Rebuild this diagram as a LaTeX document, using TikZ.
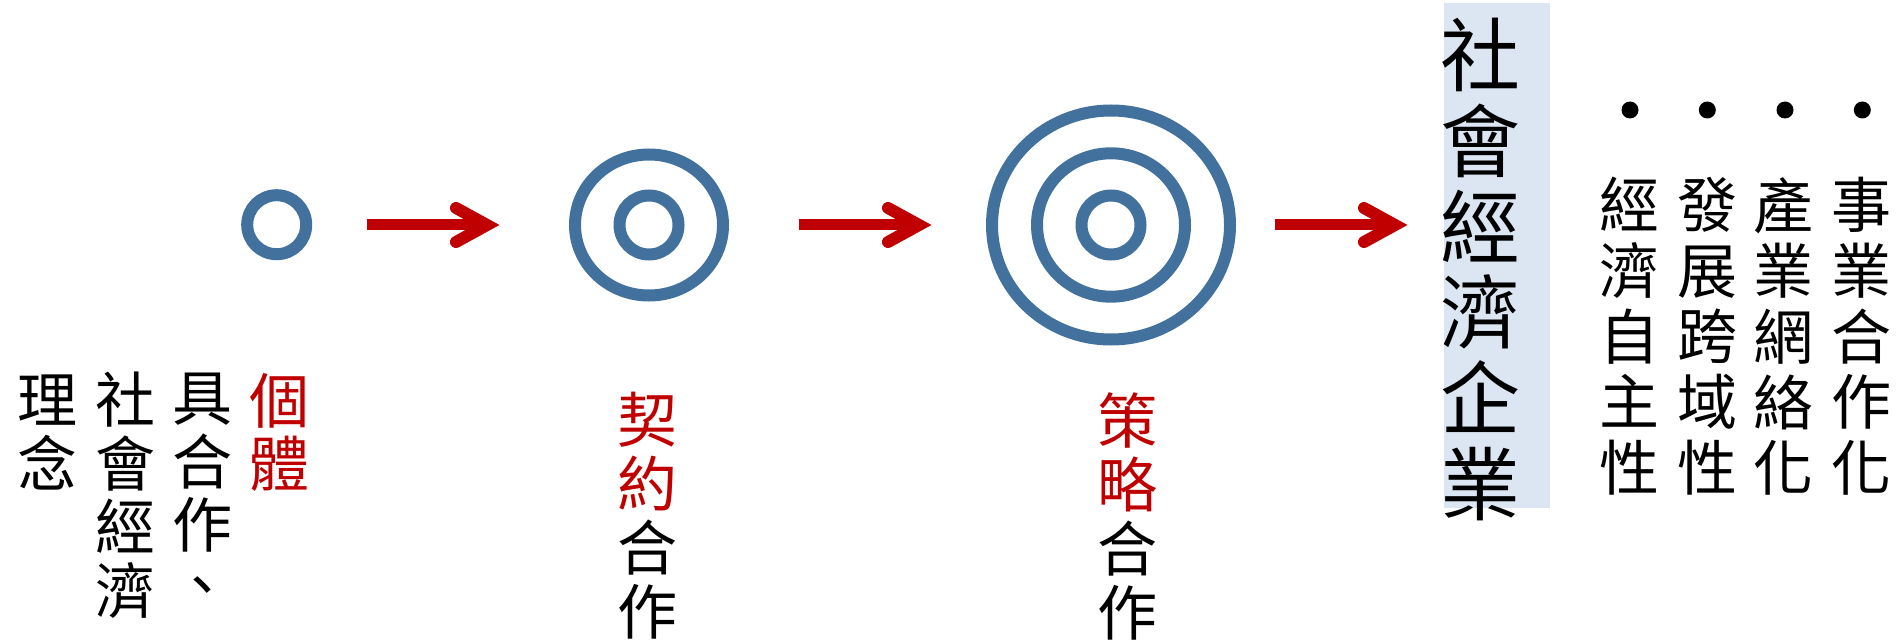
\documentclass[tikz,border=0pt]{standalone}
\usepackage{fontspec}
\newfontfamily\cjk{Noto Sans CJK TC}
\definecolor{ringblue}{HTML}{41719C}
\definecolor{arrred}{HTML}{C00000}
\definecolor{boxblue}{HTML}{DCE6F2}
\tikzset{
  ring/.style={draw=ringblue, line width=12pt},
  shaft/.style={draw=arrred, line width=11pt},
  chev/.style={draw=arrred, line width=12pt, line cap=round, line join=miter},
  col/.style={inner sep=0pt, anchor=north, align=center, font=\cjk\fontsize{60}{64}\selectfont},
  leftcol/.style={col, font=\cjk\fontsize{60}{63.5}\selectfont},
  rightcol/.style={col, font=\cjk\fontsize{60}{65.7}\selectfont},
  bigcol/.style={col, font=\cjk\fontsize{80}{85.7}\selectfont},
  bullet/.style={circle, fill=black, inner sep=0pt, minimum size=17pt},
  hl/.style={fill=boxblue, draw=none}
}
\begin{document}
\begin{tikzpicture}[x=1pt,y=-1pt]
\useasboundingbox (0,0) rectangle (1903,644);
% rings
\coordinate (t1) at (276.7,224.7);
\coordinate (t2) at (649,225);
\coordinate (t3) at (1111,225);
\draw[ring] (t1) circle [radius=29.5];
\draw[ring] (t2) circle [radius=29.5];
\draw[ring] (t2) ellipse [x radius=74, y radius=70.5];
\draw[ring] (t3) circle [radius=29.5];
\draw[ring] (t3) ellipse [x radius=74, y radius=71.7];
\draw[ring] (t3) ellipse [x radius=119, y radius=114.5];
% arrows
\foreach \s/\v/\n in {367/487/a, 799/919/b, 1275/1395/c}{
  \coordinate (\n s) at (\s,225);
  \coordinate (\n v) at (\v,225);
  \coordinate (\n u) at (\v-31,208);
  \coordinate (\n d) at (\v-31,242);
  \draw[shaft] (\n s) -- ([xshift=2pt]\n v);
  \draw[chev] (\n u) -- (\n v) -- (\n d);
}
% highlight box
\fill[hl] (1444,3) rectangle (1550,508);
% left group
\node[leftcol] (l1) at (279,373) {\textcolor{arrred}{個}\\\textcolor{arrred}{體}};
\node[leftcol] (l2) at (202.5,373) {具\\合\\作};
\node[inner sep=0pt, anchor=center, font=\cjk\fontsize{60}{64}\selectfont] (l2c) at (202,592) {、};
\node[leftcol] (l3) at (125,372) {社\\會\\經\\濟};
\node[leftcol] (l4) at (47.5,375) {理\\念};
% contract / strategy
\node[col] (c1) at (647.5,392) {\textcolor{arrred}{契}\\\textcolor{arrred}{約}\\合\\作};
\node[col] (c2) at (1127.5,392) {\textcolor{arrred}{策}\\\textcolor{arrred}{略}\\合\\作};
% big column
\node[bigcol] (big) at (1480.5,18) {社\\會\\經\\濟\\企\\業};
% right group
\node[bullet] (b1) at (1630,110) {};
\node[bullet] (b2) at (1707.3,110) {};
\node[bullet] (b3) at (1785,110) {};
\node[bullet] (b4) at (1862.3,110) {};
\node[rightcol] (r1) at (1629.5,177) {經\\濟\\自\\主\\性};
\node[rightcol] (r2) at (1707.5,177) {發\\展\\跨\\域\\性};
\node[rightcol] (r3) at (1783.5,177) {產\\業\\網\\絡\\化};
\node[rightcol] (r4) at (1861.7,177) {事\\業\\合\\作\\化};
\end{tikzpicture}
\end{document}
